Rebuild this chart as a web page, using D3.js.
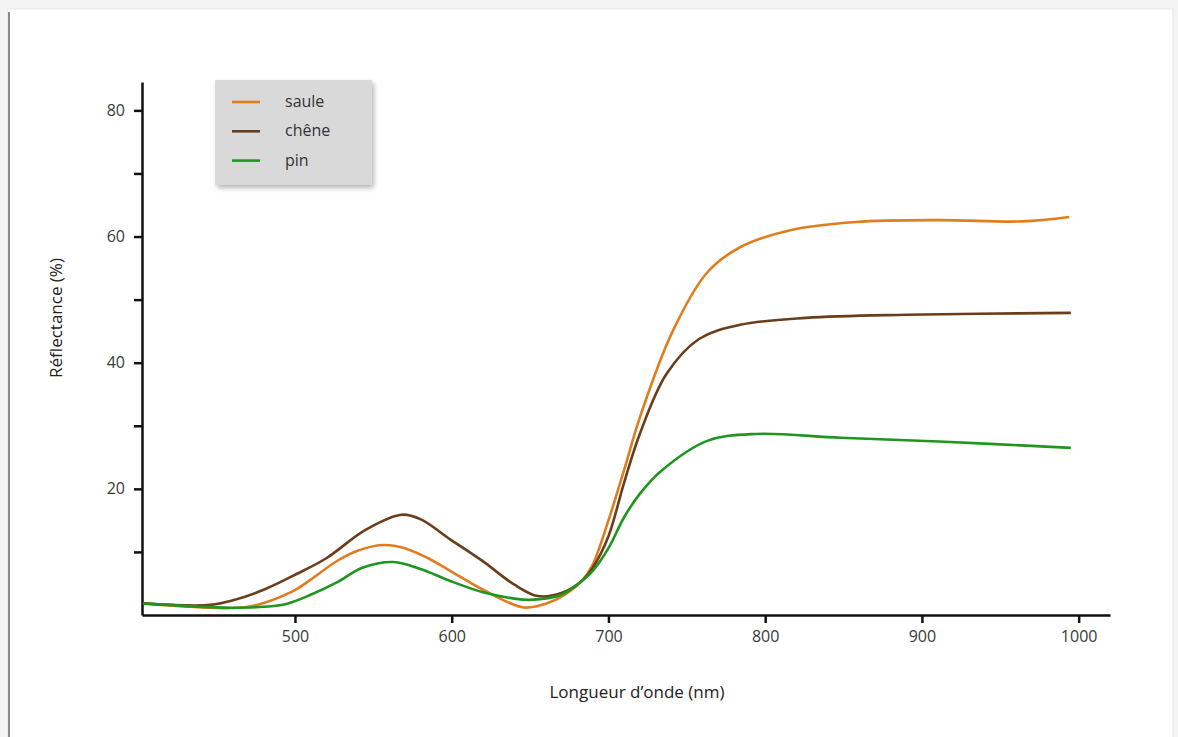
<!DOCTYPE html>
<html>
<head>
<meta charset="utf-8">
<script src="https://cdn.jsdelivr.net/npm/d3@7"></script>
<style>
  body { margin: 0; background: #f4f4f4; }
  svg { display: block; }
  text { font-family: "Open Sans", "DejaVu Sans", sans-serif; }
</style>
</head>
<body>
<svg id="chart" width="1178" height="737"></svg>
<script>
// wavelengths (nm) and reflectance (%)
let sauleNm  = [403, 420, 440, 460, 470, 480, 490, 501, 510, 527, 540, 556, 570, 585, 599, 620, 646, 660, 672, 683, 690, 700, 710, 720, 741, 763, 784, 816, 858, 911, 964, 994];
let sauleVal = [1.85, 1.5, 1.2, 1.1, 1.3, 1.9, 2.8, 4.1, 5.6, 8.6, 10.2, 11.1, 10.6, 9.0, 7.0, 4.0, 1.2, 1.8, 3.2, 5.4, 8.0, 15.0, 23.0, 31.3, 45.0, 54.3, 58.3, 61.0, 62.3, 62.6, 62.4, 63.1];

let cheneNm  = [403, 420, 446, 460, 480, 501, 520, 545, 568, 580, 599, 620, 640, 655, 670, 683, 690, 700, 710, 720, 737, 758, 784, 826, 890, 995];
let cheneVal = [1.85, 1.6, 1.6, 2.3, 4.0, 6.5, 9.0, 13.5, 15.9, 15.2, 12.0, 8.5, 4.8, 3.0, 3.5, 5.4, 7.5, 12.5, 21.0, 28.7, 38.2, 43.8, 46.0, 47.1, 47.6, 47.9];

let pinNm  = [403, 420, 440, 458, 480, 495, 510, 527, 543, 563, 580, 599, 620, 640, 650, 670, 683, 690, 700, 710, 720, 734, 763, 794, 848, 911, 995];
let pinVal = [1.85, 1.6, 1.3, 1.16, 1.3, 1.8, 3.2, 5.2, 7.5, 8.4, 7.3, 5.4, 3.6, 2.6, 2.4, 3.2, 5.4, 7.0, 10.6, 15.5, 19.2, 22.9, 27.6, 28.7, 28.1, 27.5, 26.5];

let seriesNames = ["saule", "chêne", "pin"];
let seriesColors = ["#e07d1e", "#6b3e1b", "#1f961f"];

let xTicks = [500, 600, 700, 800, 900, 1000];
let yTicks = [10, 20, 30, 40, 50, 60, 70, 80];

let svg = d3.select("#chart");

let defs = svg.append("defs");
defs.append("filter").attr("id", "blur")
    .append("feGaussianBlur").attr("stdDeviation", 2.5);

// page frame
svg.append("rect").attr("x", 0).attr("y", 0).attr("width", 1178).attr("height", 737).attr("fill", "#f4f4f4");
svg.append("rect").attr("x", 8).attr("y", 9).attr("width", 1165).attr("height", 740)
    .attr("fill", "#fff").attr("stroke", "#e6e6e6");
svg.append("line").attr("x1", 9).attr("x2", 9).attr("y1", 12).attr("y2", 737)
    .attr("stroke", "#8a8a8a").attr("stroke-width", 2);

// scales
let x = d3.scaleLinear().domain([402.4, 1020]).range([142, 1110]);
let y = d3.scaleLinear().domain([0, 84.5]).range([615, 82]);

// axes
let xAxis = svg.append("g")
    .attr("transform", `translate(0, ${y(0)})`)
    .call(d3.axisBottom(x).tickValues(xTicks).tickSize(8).tickSizeOuter(0).tickPadding(8)
        .tickFormat((d) => d));
let yAxis = svg.append("g")
    .attr("transform", `translate(${x(402.4)}, 0)`)
    .call(d3.axisLeft(y).tickValues(yTicks).tickSize(8).tickSizeOuter(0).tickPadding(9)
        .tickFormat((d) => d % 20 === 0 ? d : ""));

[xAxis, yAxis].forEach((a) => {
    a.attr("font-size", null).attr("font-family", null);
    a.select(".domain").attr("stroke", "#111").attr("stroke-width", 2.5);
    a.selectAll(".tick line").attr("stroke", "#111").attr("stroke-width", 2.5);
    a.selectAll(".tick text")
        .style("font-size", "16px")
        .style("fill", "#3a3a3a")
        .style("font-family", '"Open Sans", sans-serif');
});

// curves
let line = d3.line()
    .x((d) => x(d[0]))
    .y((d) => y(d[1]))
    .curve(d3.curveCatmullRom.alpha(0.5));

let allSeries = [
    d3.zip(sauleNm, sauleVal),
    d3.zip(cheneNm, cheneVal),
    d3.zip(pinNm, pinVal)
];

svg.append("g")
    .selectAll("path")
    .data(allSeries)
    .enter()
    .append("path")
    .attr("d", line)
    .attr("fill", "none")
    .attr("stroke", (d, i) => seriesColors[i])
    .attr("stroke-width", 2.6)
    .attr("stroke-linejoin", "round");

// legend
let legend = svg.append("g").attr("transform", "translate(215, 80)");
legend.append("rect").attr("x", 2).attr("y", 3).attr("width", 157).attr("height", 105)
    .attr("fill", "#999").attr("opacity", 0.7).attr("filter", "url(#blur)");
legend.append("rect").attr("width", 157).attr("height", 105).attr("fill", "#d9d9d9");
let items = legend.selectAll("g.item")
    .data(seriesNames)
    .enter()
    .append("g")
    .attr("class", "item")
    .attr("transform", (d, i) => `translate(0, ${22 + i * 29.3})`);
items.append("line")
    .attr("x1", 17).attr("x2", 45)
    .attr("stroke", (d, i) => seriesColors[i])
    .attr("stroke-width", 2.6);
items.append("text")
    .attr("x", 70).attr("y", 5)
    .attr("font-size", 16)
    .attr("fill", "#333")
    .text((d) => d);

// axis titles
svg.append("text")
    .attr("x", 637).attr("y", 698)
    .attr("text-anchor", "middle")
    .attr("font-size", 17)
    .attr("fill", "#222")
    .text("Longueur d’onde (nm)");
svg.append("text")
    .attr("transform", "translate(62, 318) rotate(-90)")
    .attr("text-anchor", "middle")
    .attr("font-size", 17)
    .attr("fill", "#222")
    .text("Réflectance (%)");
</script>
</body>
</html>
